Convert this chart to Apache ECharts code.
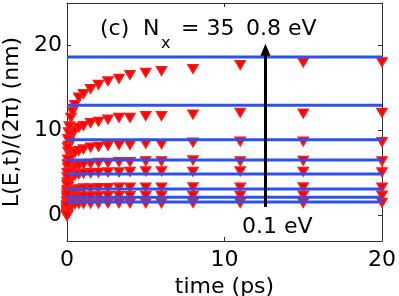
<!DOCTYPE html>
<html>
<head>
<meta charset="utf-8">
<script src="https://cdn.jsdelivr.net/npm/echarts@6/dist/echarts.min.js"></script>
<style>html,body{margin:0;padding:0;background:#fff;}#c{width:399px;height:296px;}</style>
</head>
<body>
<div id="c"></div>
<script>
// ---- data ----
const times = [0, 0.005, 0.01, 0.02, 0.03, 0.05, 0.07, 0.1, 0.15, 0.25, 0.35, 0.5, 0.75, 1.05, 1.5, 2.0, 2.6, 3.3, 4, 5, 6, 8, 11, 15, 20];
const L_01 = [0, 0.15, 0.3, 0.5, 0.7, 0.9, 1.0, 1.1, 1.2, 1.3, 1.32, 1.35, 1.38, 1.4, 1.42, 1.43, 1.44, 1.45, 1.45, 1.46, 1.46, 1.47, 1.47, 1.48, 1.5];
const L_02 = [0, 0.2, 0.45, 0.8, 1.1, 1.4, 1.6, 1.8, 1.9, 2.05, 2.1, 2.15, 2.2, 2.25, 2.27, 2.28, 2.3, 2.3, 2.3, 2.32, 2.33, 2.33, 2.33, 2.35, 2.35];
const L_03 = [0, 0.3, 0.65, 1.2, 1.6, 2.0, 2.3, 2.5, 2.7, 2.9, 3.0, 3.05, 3.1, 3.2, 3.2, 3.25, 3.25, 3.3, 3.3, 3.3, 3.3, 3.32, 3.3, 3.32, 3.3];
const L_04 = [0, 0.45, 0.9, 1.7, 2.3, 3.0, 3.4, 3.8, 4.1, 4.4, 4.6, 4.75, 4.85, 4.95, 5.0, 5.05, 5.1, 5.1, 5.15, 5.2, 5.2, 5.15, 5.2, 5.15, 5.1];
const L_05 = [0, 0.6, 1.2, 2.2, 3.0, 3.9, 4.4, 4.8, 5.1, 5.4, 5.6, 5.8, 5.9, 6.0, 6.1, 6.2, 6.2, 6.3, 6.3, 6.4, 6.4, 6.5, 6.4, 6.45, 6.4];
const L_06 = [0, 0.8, 1.6, 2.8, 3.9, 5.0, 5.6, 6.1, 6.5, 6.9, 7.2, 7.4, 7.6, 7.8, 8.0, 8.1, 8.2, 8.3, 8.3, 8.45, 8.4, 8.6, 8.7, 8.7, 8.65];
const L_07 = [0, 1.0, 2.0, 3.6, 5.0, 6.6, 7.5, 8.2, 8.7, 9.3, 9.8, 10.0, 10.35, 10.55, 10.9, 11.05, 11.3, 11.5, 11.5, 11.7, 11.7, 11.9, 12.1, 12.0, 12.1];
const L_08 = [0, 1.2, 2.5, 4.5, 6.0, 8.0, 9.0, 9.8, 10.5, 11.5, 12.2, 13.0, 13.9, 14.3, 14.9, 15.4, 15.8, 16.1, 16.55, 16.8, 17.0, 17.25, 17.7, 18.0, 18.05];
const curves = [L_01, L_02, L_03, L_04, L_05, L_06, L_07, L_08];
const saturationLevels = [1.6, 2.15, 3.13, 4.89, 6.53, 8.91, 12.97, 18.64];
const xRange = [0, 20];
const yRange = [-3, 25];
const xTicks = [0, 10, 20];
const yTicks = [0, 10, 20];
const arrowT = 12.6, arrowFrom = 1.0, arrowTo = 19.5;
const xLabel = 'time (ps)';
const yLabel = 'L(E,t)/(2π) (nm)';

// ---- chart ----
const FONT = 'DejaVu Sans';
const frame = '#303030';
const chart = echarts.init(document.getElementById('c'), null, {renderer: 'canvas'});
const series = [];
curves.forEach((c, i) => {
  series.push({
    type: 'scatter', xAxisIndex: 0, yAxisIndex: 0,
    data: times.map((t, j) => [t, c[j]]),
    symbol: 'triangle', symbolRotate: 180, symbolSize: [10, 8.5],
    itemStyle: {color: '#ff0000', borderColor: '#ff1a1a', borderWidth: 1.5, opacity: 1},
    clip: false, silent: true, animation: false
  });
  series.push({
    type: 'line', xAxisIndex: 0, yAxisIndex: 0,
    data: [[xRange[0], saturationLevels[i]], [xRange[1], saturationLevels[i]]],
    symbol: 'none', lineStyle: {color: '#2d50f0', width: 3}, silent: true, animation: false
  });
});
series.push({
  type: 'line', data: [], xAxisIndex: 0, yAxisIndex: 0, animation: false,
  markLine: {
    silent: true, animation: false,
    symbol: ['none', 'triangle'], symbolSize: [10, 12],
    lineStyle: {color: '#000', width: 3, type: 'solid'},
    label: {show: false},
    data: [[{coord: [arrowT, arrowFrom]}, {coord: [arrowT, arrowTo]}]]
  }
});

const axisCommon = {
  axisLine: {show: true, onZero: false, lineStyle: {color: frame, width: 1}},
  axisTick: {show: true, inside: true, length: 4, lineStyle: {color: frame}},
  splitLine: {show: false}
};

chart.setOption({
  animation: false,
  grid: {left: 67, right: 17, top: 3, bottom: 55, containLabel: false, outerBoundsMode: 'none'},
  xAxis: [
    Object.assign({}, axisCommon, {
      type: 'value', position: 'bottom', min: xRange[0], max: xRange[1], interval: 10,
      axisLabel: {show: true, fontFamily: FONT, fontSize: 22, color: '#000', margin: 8,
        customValues: xTicks},
      axisTick: Object.assign({}, axisCommon.axisTick, {customValues: xTicks}),
      name: xLabel, nameLocation: 'middle', nameGap: 28,
      nameTextStyle: {fontFamily: FONT, fontSize: 22, color: '#000'}
    }),
    Object.assign({}, axisCommon, {
      type: 'value', position: 'top', min: xRange[0], max: xRange[1], interval: 10,
      axisLabel: {show: false},
      axisTick: Object.assign({}, axisCommon.axisTick, {customValues: xTicks})
    })
  ],
  yAxis: [
    Object.assign({}, axisCommon, {
      type: 'value', position: 'left', min: yRange[0], max: yRange[1],
      axisLabel: {show: true, fontFamily: FONT, fontSize: 22, color: '#000', margin: 5,
        customValues: yTicks},
      axisTick: Object.assign({}, axisCommon.axisTick, {customValues: yTicks}),
      name: yLabel, nameLocation: 'middle', nameGap: 40,
      nameTextStyle: {fontFamily: FONT, fontSize: 22, color: '#000'}
    }),
    Object.assign({}, axisCommon, {
      type: 'value', position: 'right', min: yRange[0], max: yRange[1],
      axisLabel: {show: false},
      axisTick: Object.assign({}, axisCommon.axisTick, {customValues: yTicks})
    })
  ],
  series: series,
  graphic: [
    {type: 'text', left: 100, top: 18, style: {text: '(c)', font: '22px "DejaVu Sans"', fill: '#000'}},
    {type: 'text', left: 143, top: 18, style: {text: 'N', font: '22px "DejaVu Sans"', fill: '#000'}},
    {type: 'text', left: 161, top: 36, style: {text: 'x', font: '16px "DejaVu Sans"', fill: '#000'}},
    {type: 'text', left: 181, top: 18, style: {text: '= 35', font: '22px "DejaVu Sans"', fill: '#000'}},
    {type: 'text', left: 246, top: 18, style: {text: '0.8 eV', font: '22px "DejaVu Sans"', fill: '#000'}},
    {type: 'text', left: 242, top: 216, style: {text: '0.1 eV', font: '22px "DejaVu Sans"', fill: '#000'}}
  ]
});
</script>
</body>
</html>
